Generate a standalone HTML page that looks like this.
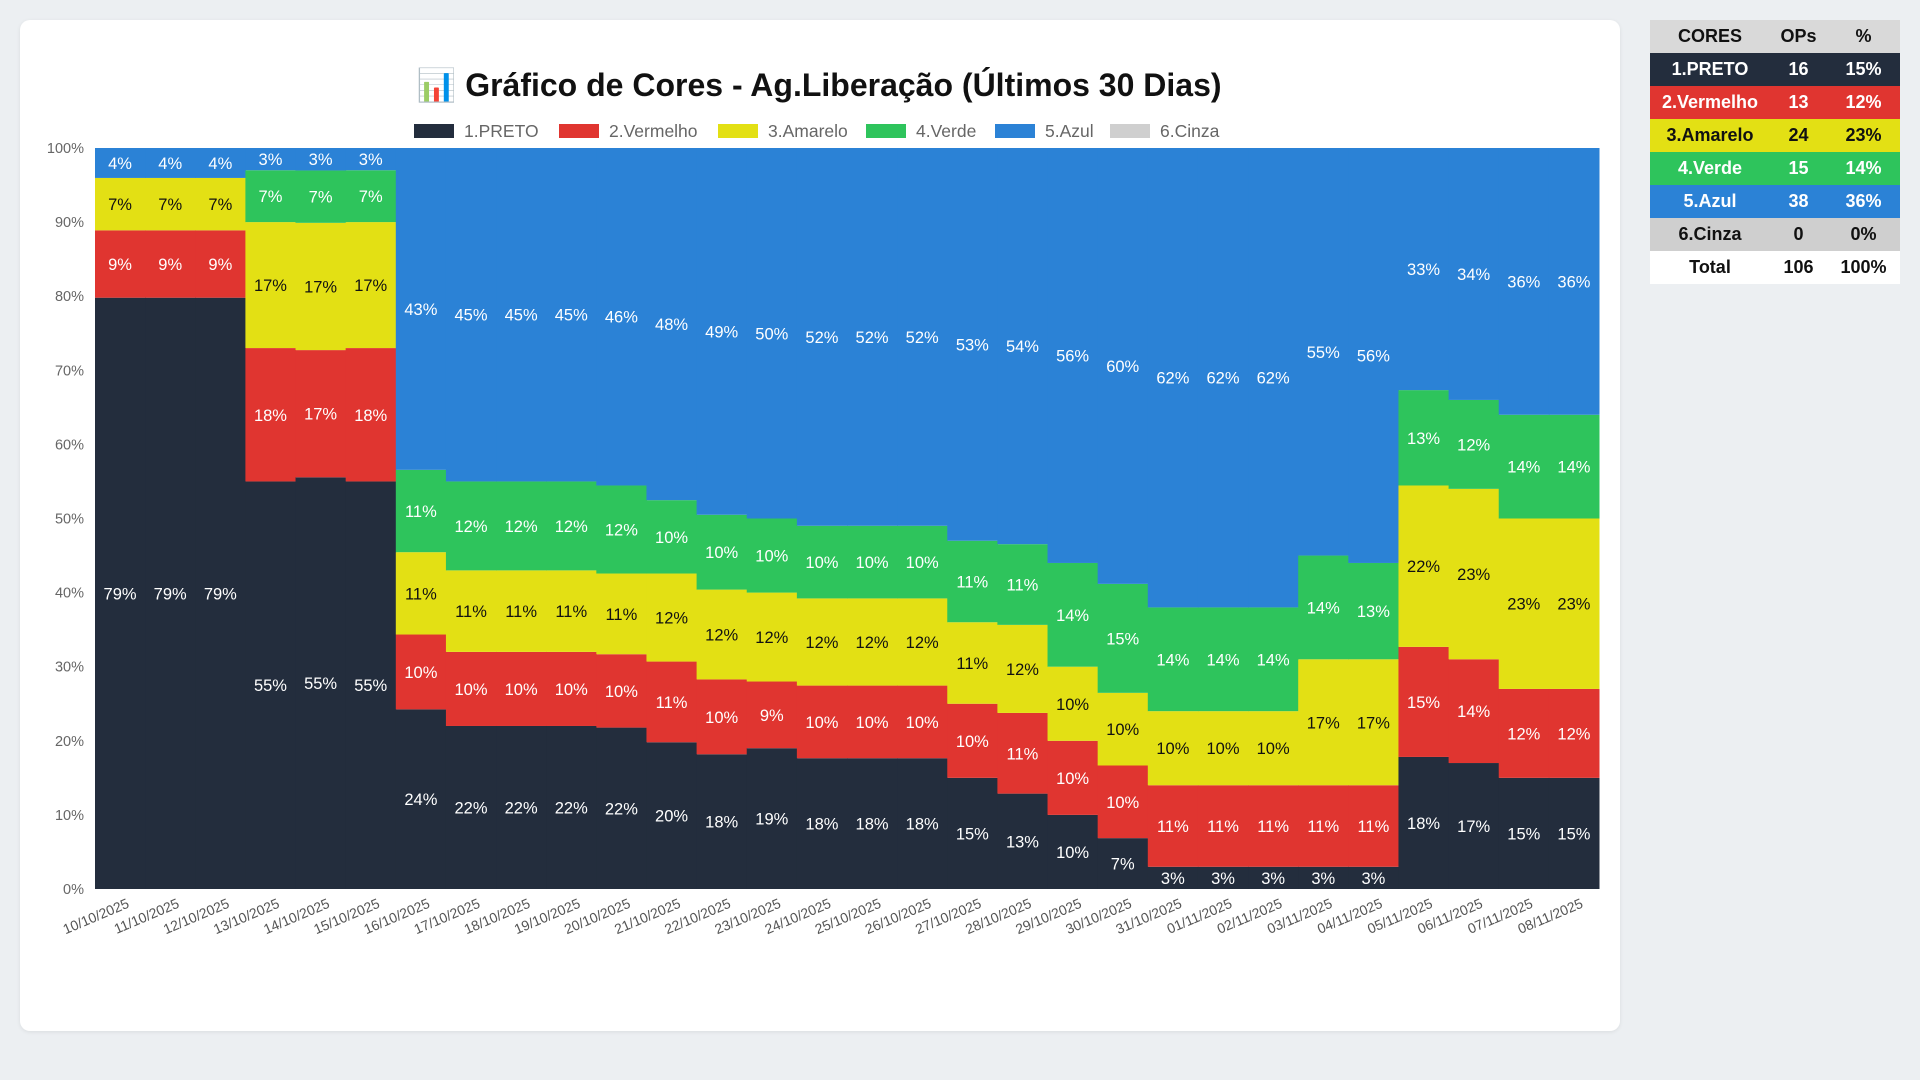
<!DOCTYPE html>
<html><head><meta charset="utf-8"><style>
body{margin:0;width:1920px;height:1080px;background:#eceff2;font-family:"Liberation Sans",sans-serif;overflow:hidden;position:relative}
#card{position:absolute;left:20px;top:20px;width:1600px;height:1011px;background:#fff;border-radius:10px;box-shadow:0 1px 4px rgba(0,0,0,.08)}
table{position:absolute;left:1650px;top:20px;width:250px;border-collapse:collapse;font-weight:bold;font-size:18px;text-align:center}
td{height:33px;padding:0}
</style></head><body>
<div id="card"></div>
<svg id="chart" width="1920" height="1080" style="position:absolute;left:0;top:0"></svg>
<table>
<tr style="background:#d9d9d9;color:#111"><td style="width:120px">CORES</td><td>OPs</td><td>%</td></tr>
<tr style="background:#232d3d;color:#fff"><td>1.PRETO</td><td>16</td><td>15%</td></tr>
<tr style="background:#e03530;color:#fff"><td>2.Vermelho</td><td>13</td><td>12%</td></tr>
<tr style="background:#e3e014;color:#111"><td>3.Amarelo</td><td>24</td><td>23%</td></tr>
<tr style="background:#2ec45c;color:#fff"><td>4.Verde</td><td>15</td><td>14%</td></tr>
<tr style="background:#2b82d6;color:#fff"><td>5.Azul</td><td>38</td><td>36%</td></tr>
<tr style="background:#cfcfcf;color:#111"><td>6.Cinza</td><td>0</td><td>0%</td></tr>
<tr style="background:#fff;color:#111"><td>Total</td><td>106</td><td>100%</td></tr>
</table>
<script>
const categories=["10/10/2025","11/10/2025","12/10/2025","13/10/2025","14/10/2025","15/10/2025","16/10/2025","17/10/2025","18/10/2025","19/10/2025","20/10/2025","21/10/2025","22/10/2025","23/10/2025","24/10/2025","25/10/2025","26/10/2025","27/10/2025","28/10/2025","29/10/2025","30/10/2025","31/10/2025","01/11/2025","02/11/2025","03/11/2025","04/11/2025","05/11/2025","06/11/2025","07/11/2025","08/11/2025"];
const preto=[79,79,79,55,55,55,24,22,22,22,22,20,18,19,18,18,18,15,13,10,7,3,3,3,3,3,18,17,15,15];
const vermelho=[9,9,9,18,17,18,10,10,10,10,10,11,10,9,10,10,10,10,11,10,10,11,11,11,11,11,15,14,12,12];
const amarelo=[7,7,7,17,17,17,11,11,11,11,11,12,12,12,12,12,12,11,12,10,10,10,10,10,17,17,22,23,23,23];
const verde=[0,0,0,7,7,7,11,12,12,12,12,10,10,10,10,10,10,11,11,14,15,14,14,14,14,13,13,12,14,14];
const azul=[4,4,4,3,3,3,43,45,45,45,46,48,49,50,52,52,52,53,54,56,60,62,62,62,55,56,33,34,36,36];
const cinza=[0,0,0,0,0,0,0,0,0,0,0,0,0,0,0,0,0,0,0,0,0,0,0,0,0,0,0,0,0,0];
const yTicks=[0,10,20,30,40,50,60,70,80,90,100];
const seriesNames=["1.PRETO","2.Vermelho","3.Amarelo","4.Verde","5.Azul","6.Cinza"];
const series=[preto,vermelho,amarelo,verde,azul,cinza];
const colors=["#232d3d","#e03530","#e3e014","#2ec45c","#2b82d6","#cfcfcf"];
const textColors=["#fff","#fff","#111","#fff","#fff","#111"];
const svg=document.getElementById('chart');const NS="http://www.w3.org/2000/svg";
const X0=95,X1=1599,Y0=889,Y1=148;const bw=(X1-X0)/categories.length;
const xPos=i=>X0+i*bw;const yPos=v=>Y0-(v/100)*(Y0-Y1);
function mk(t,a,txt){const e=document.createElementNS(NS,t);for(const k in a)e.setAttribute(k,a[k]);if(txt!==undefined)e.textContent=txt;svg.appendChild(e);return e;}
let t=mk('text',{x:819,y:96,'text-anchor':'middle','font-size':32,'font-weight':'bold',fill:'#111'},'📊 Gráfico de Cores - Ag.Liberação (Últimos 30 Dias)');


let lx=[414,559,718,866,995,1110];
seriesNames.forEach((n,k)=>{
 const r=mk('rect',{x:lx[k],y:124,width:40,height:14,fill:colors[k]});
 
 
 const tx=mk('text',{x:lx[k]+50,y:137,'font-size':17.5,fill:'#666'},n);
 
 
});
yTicks.forEach(v=>{
 const l=mk('text',{x:84,y:yPos(v)+5,'text-anchor':'end','font-size':14.5,fill:'#666'},v+'%');
 
 
});
categories.forEach((c,i)=>{
 const tot=series.reduce((s,a)=>s+a[i],0);let acc=0;
 series.forEach((a,k)=>{
  const v=a[i]/tot*100;if(v<=0)return;
  const yt=yPos(acc+v),yb=yPos(acc);
  const r=mk('rect',{x:xPos(i),y:yt,width:bw+0.5,height:yb-yt,fill:colors[k]});
  
  
  const l=mk('text',{x:xPos(i)+bw/2,y:(yt+yb)/2+6,'text-anchor':'middle','font-size':16.5,fill:textColors[k]},a[i]+'%');
  
  
  acc+=v;
 });
 const cx=xPos(i)+bw/2+10,cy=Y0+18;
 const xl=mk('text',{x:cx,y:cy,'text-anchor':'end','font-size':14,fill:'#555',transform:`rotate(-23 ${cx} ${cy})`},c);
 
 
});
</script>
</body></html>
